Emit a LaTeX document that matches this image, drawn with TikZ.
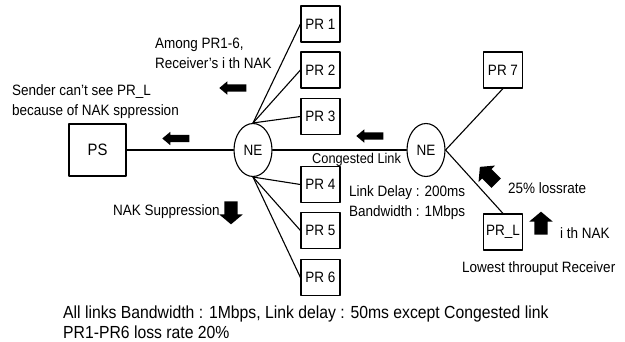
\documentclass[tikz,border=0pt]{standalone}
\usepackage{fontspec}
\setmainfont[FakeStretch=0.9]{Liberation Sans}
\usetikzlibrary{shapes.geometric,shapes.arrows}

\begin{document}
\begin{tikzpicture}[x=1pt,y=-1pt,line cap=round,line join=round,
  box/.style={draw,line width=1.1pt,minimum width=39pt,minimum height=36pt,inner sep=0pt,font=\fontsize{15}{17}\selectfont},
  router/.style={draw,ellipse,line width=1.1pt,minimum width=38pt,minimum height=53pt,inner sep=0pt,font=\fontsize{15}{17}\selectfont},
  link/.style={line width=1.1pt},
  lbl/.style={anchor=base west,inner sep=0pt,align=left,font=\fontsize{15}{20}\selectfont},
  thinarrow/.style={single arrow,fill=black,inner sep=3.5pt,minimum height=27pt,single arrow head extend=3pt,single arrow tip angle=80},
  fatarrow/.style={single arrow,fill=black,inner sep=6.5pt,minimum height=23pt,single arrow head extend=5pt,single arrow tip angle=100}]
  \useasboundingbox (0,0) rectangle (625,341);
  % sender and network elements
  \node[box,minimum width=57pt,minimum height=52pt,font=\fontsize{16.5}{19}\selectfont] (ps) at (97.5,150) {PS};
  \node[router] (ne1) at (253,150) {NE};
  \node[router] (ne2) at (426,150) {NE};
  % receivers
  \foreach \i/\y in {1/24,2/70,3/116.5,4/184.5,5/230.5,6/277.5}
    \node[box] (pr\i) at (320.5,\y) {PR \i};
  \node[box] (pr7) at (503,70) {PR 7};
  \node[box] (prl) at (503,232) {PR\_L};
  % links
  \draw[link] (ps) -- (ne1) -- (ne2);
  \foreach \i in {1,2,3}
    \draw[link] (ne1.north) -- (pr\i.west);
  \foreach \i in {4,5,6}
    \draw[link] (ne1.south) -- (pr\i.west);
  \draw[link] (ne2.east) -- (pr7.south);
  \draw[link] (ne2.east) -- (prl.north);
  % NAK arrows
  \node[thinarrow,rotate=180] (nakA) at (235,88) {};
  \node[thinarrow,rotate=180] (nakB) at (178,138.5) {};
  \node[thinarrow,rotate=180] (nakC) at (372,136) {};
  \node[fatarrow,rotate=270] (supp) at (231,210) {};
  \node[fatarrow,rotate=135] (loss) at (490,177) {};
  \node[fatarrow,rotate=90] (nakL) at (541,226) {};
  % labels (base of the last line)
  \node[lbl] (among) at (155,68) {Among PR1-6,\\Receiver's i th NAK};
  \node[lbl] (sender) at (12,115) {Sender can't see PR\_L\\because of NAK sppression};
  \node[lbl,font=\fontsize{14.2}{20}\selectfont] (cong) at (312,163) {Congested Link};
  \node[lbl] (delay) at (349,216) {Link Delay : 200ms\\Bandwidth : 1Mbps};
  \node[lbl] (supptxt) at (113,215) {NAK Suppression};
  \node[lbl] (losstxt) at (508,193) {25\% lossrate};
  \node[lbl] (naktxt) at (560,238) {i th NAK};
  \node[lbl] (lowest) at (462,272) {Lowest throuput Receiver};
  \node[lbl,font=\fontsize{17.5}{20}\selectfont] (note) at (63,338) {All links Bandwidth : 1Mbps, Link delay : 50ms except Congested link\\PR1-PR6 loss rate 20\%};
\end{tikzpicture}
\end{document}
